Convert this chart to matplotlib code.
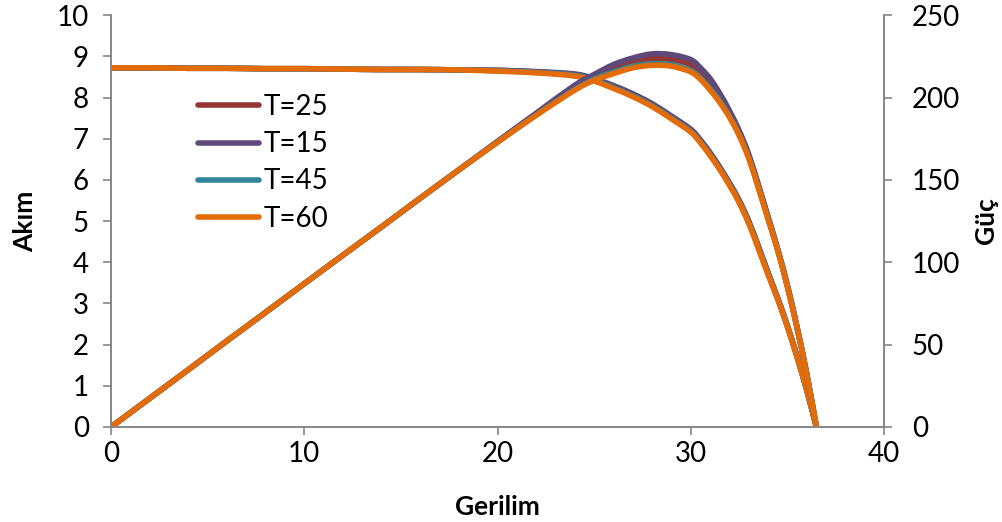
import matplotlib
matplotlib.use("Agg")
import matplotlib.pyplot as plt
from matplotlib.path import Path
from matplotlib.patches import PathPatch
from matplotlib.lines import Line2D

plt.rcParams['font.family'] = ['Lato', 'DejaVu Sans']

# gerilim (V)
V = [0, 2, 4, 6, 8, 10, 12, 14, 16, 18, 20, 22, 24, 25, 26, 27, 28, 29, 30,
     30.5, 31, 31.5, 32, 32.5, 33, 33.5, 34, 34.5, 35, 35.5, 36, 36.5]

# akim (A), one list per temperature
I_60 = [8.72, 8.72, 8.71, 8.71, 8.70, 8.70, 8.69, 8.68, 8.68, 8.67, 8.64, 8.60, 8.52, 8.40,
        8.22, 8.02, 7.78, 7.48, 7.16, 6.90, 6.59, 6.25, 5.87, 5.45, 4.94, 4.33, 3.70, 3.10,
        2.43, 1.69, 0.89, 0.0]
I_45 = [8.72, 8.72, 8.71, 8.71, 8.70, 8.70, 8.69, 8.68, 8.68, 8.67, 8.65, 8.61, 8.54, 8.42,
        8.24, 8.04, 7.80, 7.50, 7.18, 6.92, 6.61, 6.27, 5.89, 5.47, 4.96, 4.35, 3.72, 3.11,
        2.44, 1.70, 0.89, 0.0]
I_25 = [8.72, 8.72, 8.71, 8.71, 8.70, 8.70, 8.69, 8.68, 8.68, 8.67, 8.66, 8.62, 8.56, 8.44,
        8.27, 8.07, 7.83, 7.53, 7.21, 6.95, 6.64, 6.29, 5.91, 5.49, 4.98, 4.37, 3.73, 3.12,
        2.45, 1.71, 0.90, 0.0]
I_15 = [8.72, 8.72, 8.71, 8.71, 8.70, 8.70, 8.69, 8.68, 8.68, 8.67, 8.66, 8.63, 8.57, 8.46,
        8.29, 8.09, 7.85, 7.55, 7.23, 6.97, 6.66, 6.31, 5.93, 5.51, 5.00, 4.39, 3.75, 3.13,
        2.46, 1.72, 0.90, 0.0]

# guc (W)
P_60 = [0, 17.4, 34.8, 52.3, 69.6, 87.0, 104.3, 121.5, 138.9, 156.1, 172.8, 189.2, 204.5,
        210.5, 214.5, 218.0, 219.5, 219.0, 215.5, 211.0, 204.5, 197.0, 188.0, 177.0, 163.0,
        145.0, 126.0, 107.0, 85.0, 60.0, 32.0, 0.0]
P_45 = [0, 17.4, 34.8, 52.3, 69.6, 87.0, 104.3, 121.5, 138.9, 156.1, 173.0, 189.5, 205.0,
        211.2, 215.5, 219.0, 220.5, 220.0, 216.5, 212.0, 205.5, 198.0, 188.8, 177.6, 163.5,
        145.5, 126.4, 107.3, 85.3, 60.2, 32.1, 0.0]
P_25 = [0, 17.4, 34.8, 52.3, 69.6, 87.0, 104.3, 121.5, 138.9, 156.1, 173.2, 190.0, 206.0,
        212.5, 217.5, 221.5, 223.5, 223.0, 220.0, 215.0, 208.5, 200.5, 190.5, 179.0, 164.5,
        146.3, 127.0, 107.6, 85.6, 60.4, 32.2, 0.0]
P_15 = [0, 17.4, 34.8, 52.3, 69.6, 87.0, 104.3, 121.5, 138.9, 156.1, 173.4, 190.5, 207.5,
        214.0, 220.0, 224.0, 226.5, 226.0, 223.0, 218.0, 211.5, 202.5, 192.0, 180.0, 165.5,
        147.0, 127.6, 108.0, 86.0, 60.6, 32.3, 0.0]

labels = ['T=25', 'T=15', 'T=45', 'T=60']
colors = ['#943634', '#5F497A', '#31859B', '#E36C09']
I_all = [I_25, I_15, I_45, I_60]
P_all = [P_25, P_15, P_45, P_60]


def smooth_path(x, y):
    # Excel style "smoothed line": cubic bezier through every point
    verts = [(x[0], y[0])]
    codes = [Path.MOVETO]
    n = len(x)
    for i in range(n - 1):
        x0, y0 = (x[i - 1], y[i - 1]) if i > 0 else (x[i], y[i])
        x3, y3 = (x[i + 2], y[i + 2]) if i + 2 < n else (x[i + 1], y[i + 1])
        c1 = (x[i] + (x[i + 1] - x0) / 6, y[i] + (y[i + 1] - y0) / 6)
        c2 = (x[i + 1] - (x3 - x[i]) / 6, y[i + 1] - (y3 - y[i]) / 6)
        verts += [c1, c2, (x[i + 1], y[i + 1])]
        codes += [Path.CURVE4] * 3
    return Path(verts, codes)


fig = plt.figure(figsize=(10.03, 5.22), dpi=100)
ax = fig.add_axes([0.1107, 0.182, 0.7707, 0.789])
ax2 = ax.twinx()

handles = []
for lab, c, I in zip(labels, colors, I_all):
    ax.add_patch(PathPatch(smooth_path(V, I), fill=False, edgecolor=c, lw=4,
                           capstyle='round', joinstyle='round'))
    handles.append(Line2D([], [], color=c, lw=4, solid_capstyle='round', label=lab))
for c, P in zip(colors, P_all):
    ax2.add_patch(PathPatch(smooth_path(V, P), fill=False, edgecolor=c, lw=4,
                            capstyle='round', joinstyle='round'))

ax.set_xlim(0, 40)
ax.set_ylim(0, 10)
ax2.set_ylim(0, 250)
ax.set_xticks(range(0, 41, 10))
ax.set_yticks(range(0, 11))
ax2.set_yticks(range(0, 251, 50))

gray = '#868686'
for a in (ax, ax2):
    a.spines['top'].set_visible(False)
    for s in ('left', 'right', 'bottom'):
        a.spines[s].set_color(gray)
        a.spines[s].set_linewidth(1.2)
    a.tick_params(colors=gray, labelcolor='black', labelsize=20, length=6, width=1.2, direction='out')
ax.tick_params(axis='x', pad=4)
ax.tick_params(axis='y', pad=10)
ax2.tick_params(axis='y', pad=14)

ax.set_xlabel('Gerilim', fontsize=19, fontweight='bold', labelpad=20)
ax.set_ylabel('Akım', fontsize=19, fontweight='bold', labelpad=14)
ax2.set_ylabel('Güç', fontsize=19, fontweight='bold', labelpad=10)

ax2.legend(handles=handles, loc='upper left', bbox_to_anchor=(0.098, 0.835), frameon=False,
           fontsize=20, handlelength=2.2, handletextpad=0.15, labelspacing=0.4,
           borderaxespad=0)

fig.savefig('out.png', dpi=100)
